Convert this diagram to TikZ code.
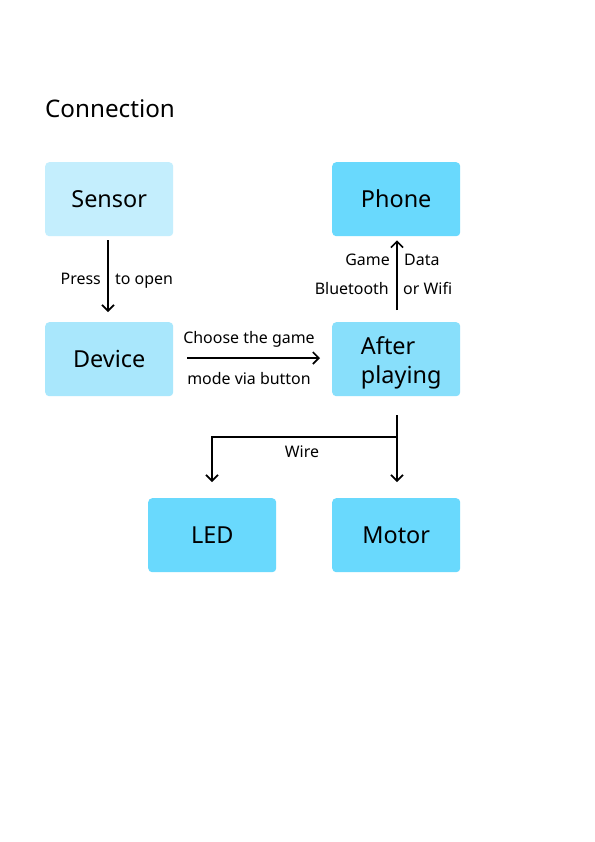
\documentclass[tikz,border=0pt]{standalone}
\usepackage{fontspec}
\setmainfont{Noto Sans}
\usetikzlibrary{arrows.meta}
\definecolor{cSensor}{HTML}{C4EEFD}
\definecolor{cDevice}{HTML}{A9E7FC}
\definecolor{cAfter}{HTML}{88DFFB}
\definecolor{cDark}{HTML}{69D9FD}
\tikzset{
  box/.style={draw=none, rounded corners=4bp, minimum width=128bp, minimum height=74bp, inner sep=0pt, font=\fontsize{23.5}{30}\selectfont, align=center, anchor=north west},
  lbl/.style={font=\fontsize{16}{19}\selectfont, inner sep=0pt},
  conn/.style={line width=1.6bp, -{Straight Barb[length=6bp,width=12bp,line width=1.6bp]}}
}
\begin{document}
\begin{tikzpicture}[x=1bp,y=-1bp]
\useasboundingbox (0,0) rectangle (595,842);
\fill[white] (0,0) rectangle (595,842);
\node[anchor=base west, font=\fontsize{24.3}{28}\selectfont, inner sep=0pt] (title) at (45,117) {Connection};
\node[box, fill=cSensor] (sensor) at (45,162) {Sensor};
\node[box, fill=cDark] (phone) at (332,162) {Phone};
\node[box, fill=cDevice] (device) at (45,322) {Device};
\node[box, fill=cAfter, label={[font=\fontsize{23.5}{29}\selectfont, align=left, inner sep=0pt, xshift=5bp, yshift=-4bp]center:After\\playing}] (after) at (332,322) {};
\node[box, fill=cDark] (led) at (148,498) {LED};
\node[box, fill=cDark] (motor) at (332,498) {Motor};
% Sensor -> Device
\draw[conn] ([yshift=-4bp]sensor.south -| 108,0) -- ([yshift=10bp]device.north -| 108,0);
\node[lbl, anchor=base east] (press) at (101,284) {Press};
\node[lbl, anchor=base west] (toopen) at (115,284) {to open};
% Device -> After
\coordinate (d1) at (187,358);
\coordinate (d2) at (320,358);
\draw[conn] (d1) -- (d2);
\node[lbl, anchor=base] (choose) at (249,343) {Choose the game};
\node[lbl, anchor=base] (mode) at (249,384) {mode via button};
% After -> Phone
\draw[conn] ([yshift=12bp]after.north -| 397,0) -- ([yshift=-4bp]phone.south -| 397,0);
\node[lbl, anchor=base east] (game) at (390,265) {Game};
\node[lbl, anchor=base west] (data) at (404,265) {Data};
\node[lbl, anchor=base east] (bt) at (389,294) {Bluetooth};
\node[lbl, anchor=base west] (wifi) at (403,294) {or Wifi};
% Wire
\coordinate (w0) at (397,415);
\coordinate (wj) at (397,437);
\coordinate (wl) at (212,437);
\draw[line width=1.6bp] (w0) -- (wj);
\draw[conn] (wj) -- ([yshift=16bp]motor.north -| 397,0);
\draw[conn] (wj) -- (wl) -- ([yshift=16bp]led.north -| 212,0);
\node[lbl, anchor=base] (wire) at (302,457) {Wire};
\end{tikzpicture}
\end{document}
